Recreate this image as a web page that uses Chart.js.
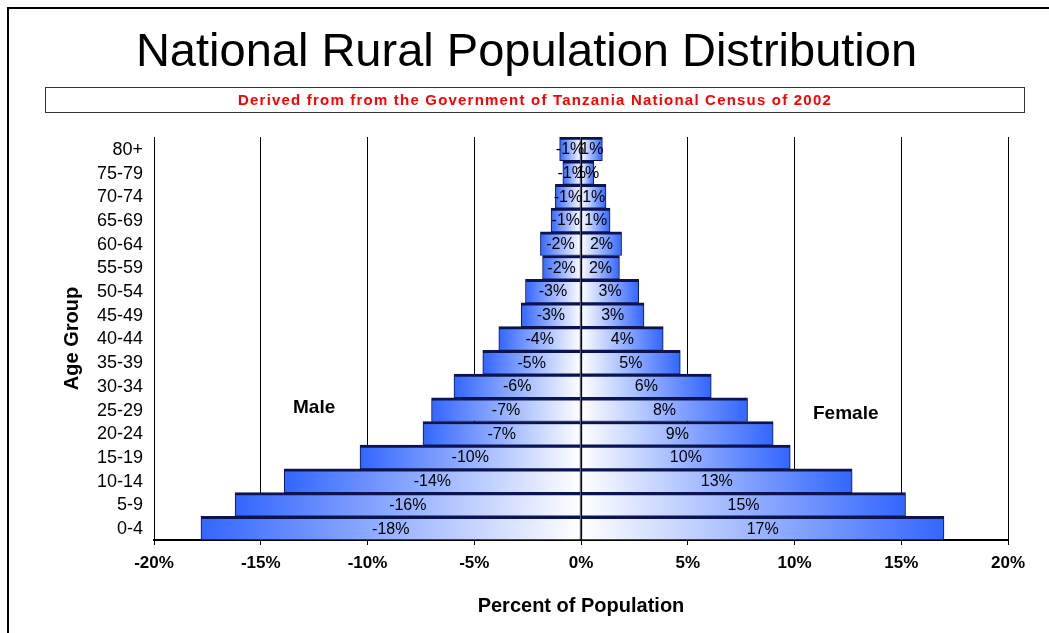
<!DOCTYPE html>
<html>
<head>
<meta charset="utf-8">
<script src="https://cdn.jsdelivr.net/npm/chart.js@4.4.1/dist/chart.umd.min.js"></script>
<style>
  html, body { margin: 0; padding: 0; background: #fff; }
  #wrap { position: relative; width: 1049px; height: 633px; }
</style>
</head>
<body>
<div id="wrap"><canvas id="c" width="1049" height="633"></canvas></div>
<script>
// ---- data ----
const ageGroups = ['0-4','5-9','10-14','15-19','20-24','25-29','30-34','35-39','40-44','45-49','50-54','55-59','60-64','65-69','70-74','75-79','80+'];
const malePct   = [-17.8,-16.2,-13.9,-10.35,-7.4,-7.0,-5.95,-4.6,-3.85,-2.8,-2.6,-1.8,-1.9,-1.4,-1.2,-0.85,-1.0];
const femalePct = [17.0,15.2,12.7,9.8,9.0,7.8,6.1,4.65,3.85,2.95,2.7,1.8,1.9,1.36,1.17,0.6,1.0];
const xTicks = [-20,-15,-10,-5,0,5,10,15,20];
const titleText = 'National Rural Population Distribution';
const subtitleText = 'Derived from from the Government of Tanzania National Census of 2002';
const sideLabels = ['Male', 'Female'];

const SANS = "'Liberation Sans',Arial,sans-serif";

function gradientFill(ctx) {
  const chart = ctx.chart;
  if (ctx.type !== 'data' || !chart.chartArea) return '#3366ff';
  const xs = chart.scales.x;
  const x0 = xs.getPixelForValue(0);
  const x1 = xs.getPixelForValue(ctx.raw);
  if (Math.abs(x1 - x0) < 1) return '#3366ff';
  const g = chart.ctx.createLinearGradient(x0, 0, x1, 0);
  g.addColorStop(0, '#ffffff');
  g.addColorStop(1, '#3366ff');
  return g;
}

const decor = {
  id: 'decor',
  beforeDraw(chart) {
    const c = chart.ctx;
    c.save();
    // outer frame
    c.strokeStyle = '#000';
    c.lineWidth = 2;
    c.strokeRect(8, 8, 1200, 800);
    // title
    c.fillStyle = '#000';
    c.font = "47px " + SANS;
    c.textAlign = 'center';
    c.textBaseline = 'alphabetic';
    c.fillText(titleText, 526.5, 66);
    // subtitle box
    c.strokeStyle = '#333';
    c.lineWidth = 1;
    c.strokeRect(45.5, 87.5, 979, 25);
    // subtitle
    c.fillStyle = '#ff0000';
    c.font = "bold 15px " + SANS;
    try { c.letterSpacing = '1.2px'; } catch (e) {}
    c.fillText(subtitleText, 535, 105);
    try { c.letterSpacing = '0px'; } catch (e) {}
    c.restore();
  },
  afterDatasetsDraw(chart) {
    const c = chart.ctx;
    const xs = chart.scales.x, ys = chart.scales.y;
    const area = chart.chartArea;
    c.save();
    // zero line over bars
    const x0 = Math.round(xs.getPixelForValue(0)) + 0.5;
    c.strokeStyle = '#000';
    c.lineWidth = 1;
    c.beginPath();
    c.moveTo(x0, area.top);
    c.lineTo(x0, area.bottom);
    c.stroke();
    // value labels
    c.fillStyle = '#000';
    c.font = "16px " + SANS;
    c.textAlign = 'center';
    c.textBaseline = 'middle';
    chart.data.datasets.forEach((ds, di) => {
      const meta = chart.getDatasetMeta(di);
      meta.data.forEach((bar, i) => {
        const v = ds.data[i];
        const cx = (bar.x + bar.base) / 2;
        c.fillText(Math.round(v) + '%', cx, bar.y + 1);
      });
    });
    // Male / Female annotations
    c.font = "bold 19px " + SANS;
    c.fillText(sideLabels[0], xs.getPixelForValue(-12.5), ys.getPixelForValue(5) - 2);
    c.fillText(sideLabels[1], xs.getPixelForValue(12.4), ys.getPixelForValue(5) + 4);
    c.restore();
  }
};

new Chart(document.getElementById('c'), {
  type: 'bar',
  data: {
    labels: ageGroups,
    datasets: [
      {
        label: sideLabels[0],
        data: malePct,
        backgroundColor: gradientFill,
        borderColor: '#0b1450',
        borderWidth: { top: 3, bottom: 1, left: 1, right: 1 },
        borderSkipped: false,
        categoryPercentage: 1.0,
        barPercentage: 1.0
      },
      {
        label: sideLabels[1],
        data: femalePct,
        backgroundColor: gradientFill,
        borderColor: '#0b1450',
        borderWidth: { top: 3, bottom: 1, left: 1, right: 1 },
        borderSkipped: false,
        categoryPercentage: 1.0,
        barPercentage: 1.0
      }
    ]
  },
  options: {
    indexAxis: 'y',
    responsive: false,
    animation: false,
    devicePixelRatio: 1,
    layout: { padding: { left: 0, right: 41, top: 137, bottom: 0 } },
    plugins: {
      legend: { display: false },
      tooltip: { enabled: false },
      title: { display: false }
    },
    scales: {
      x: {
        type: 'linear',
        min: -20,
        max: 20,
        stacked: true,
        afterBuildTicks(scale) { scale.ticks = xTicks.map(v => ({ value: v })); },
        afterFit(scale) { scale.height = 93; },
        grid: { color: '#000', lineWidth: 1, drawTicks: true, tickLength: 5 },
        border: { display: true, color: '#000', width: 2 },
        ticks: {
          color: '#000',
          padding: 8,
          font: { family: SANS, size: 17, weight: 'bold' },
          callback: v => v + '%'
        },
        title: {
          display: true,
          text: 'Percent of Population',
          color: '#000',
          font: { family: SANS, size: 20, weight: 'bold', lineHeight: 1.2 },
          padding: { top: 0, bottom: 15 }
        }
      },
      y: {
        type: 'category',
        reverse: true,
        stacked: true,
        offset: true,
        afterFit(scale) { scale.width = 154; },
        grid: { display: false },
        border: { display: false },
        ticks: {
          color: '#000',
          padding: 3,
          labelOffset: 1,
          autoSkip: false,
          font: { family: SANS, size: 18 }
        },
        title: {
          display: true,
          text: 'Age Group',
          color: '#000',
          font: { family: SANS, size: 20, weight: 'bold', lineHeight: 1.2 },
          padding: { top: 60, bottom: 0 }
        }
      }
    }
  },
  plugins: [decor]
});
</script>
</body>
</html>
